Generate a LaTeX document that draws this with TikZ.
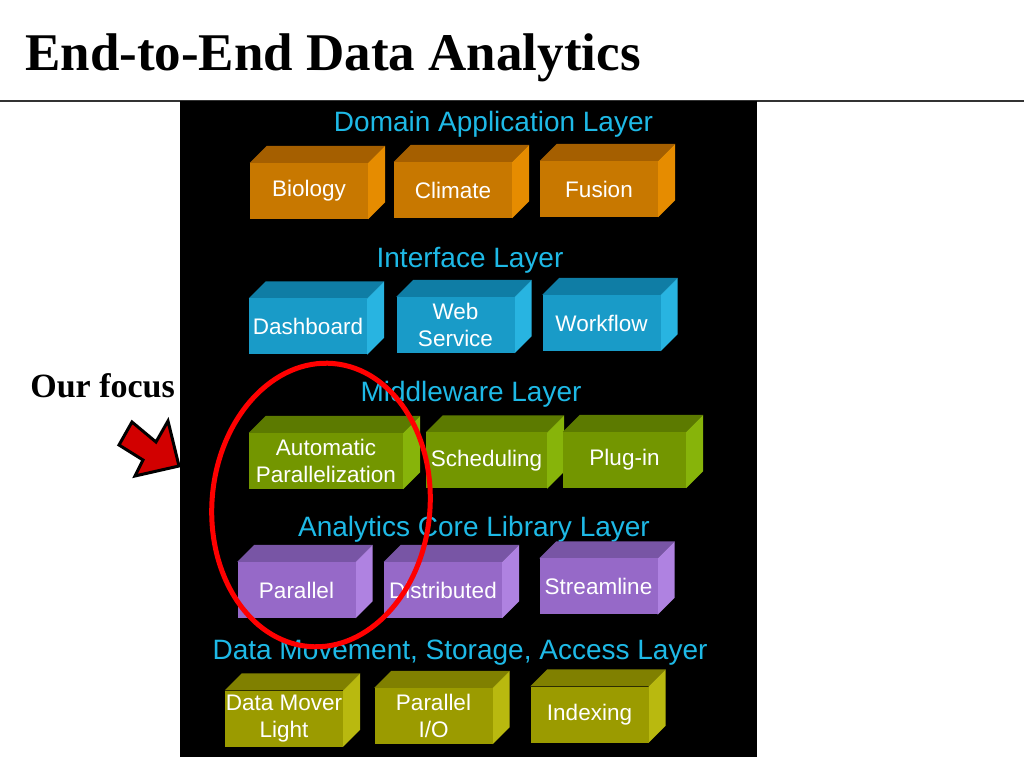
\documentclass[tikz,border=0pt]{standalone}
\usepackage{fontspec}
\setmainfont{Liberation Serif}
\setsansfont{Liberation Sans}
\usepackage{tikz}
\usetikzlibrary{arrows.meta,positioning}
\definecolor{layercyan}{RGB}{30,185,230}
\definecolor{focusred}{RGB}{210,0,0}
\definecolor{orgF}{RGB}{200,120,0}
\definecolor{orgT}{RGB}{165,95,0}
\definecolor{orgS}{RGB}{230,140,0}
\definecolor{bluF}{RGB}{25,155,200}
\definecolor{bluT}{RGB}{15,125,165}
\definecolor{bluS}{RGB}{40,180,225}
\definecolor{grnF}{RGB}{115,150,0}
\definecolor{grnT}{RGB}{92,122,0}
\definecolor{grnS}{RGB}{135,180,10}
\definecolor{purF}{RGB}{150,105,200}
\definecolor{purT}{RGB}{120,85,165}
\definecolor{purS}{RGB}{175,130,225}
\definecolor{olvF}{RGB}{155,155,0}
\definecolor{olvT}{RGB}{128,128,0}
\definecolor{olvS}{RGB}{185,185,15}
\tikzset{
  every picture/.style={line join=round, line cap=round, >=Stealth},
  layer/.style={text=layercyan, font=\sffamily\fontsize{28}{32}\selectfont, inner sep=0pt},
  cube/.style={rectangle, fill=#1F, text=white, inner sep=0pt, align=center,
    minimum width=118pt, minimum height=56pt, font=\sffamily\fontsize{22.5}{27}\selectfont,
    append after command={\pgfextra{
      \fill[#1T] (\tikzlastnode.north west) -- ++(17pt,17pt)
        -- ([shift={(17pt,17pt)}]\tikzlastnode.north east) -- (\tikzlastnode.north east) -- cycle;
      \fill[#1S] (\tikzlastnode.north east) -- ++(17pt,17pt)
        -- ([shift={(17pt,17pt)}]\tikzlastnode.south east) -- (\tikzlastnode.south east) -- cycle;}}},
}

\begin{document}
\begin{tikzpicture}[x=1pt,y=1pt]
\useasboundingbox (0,0) rectangle (1024,768);
\fill[white] (0,0) rectangle (1024,768);
\node[anchor=base west,inner sep=0pt,font=\bfseries\fontsize{53}{60}\selectfont] (title) at (25,697) {End-to-End Data Analytics};
\draw[line width=2pt,black!80] (0,667)--(1024,667);
\fill[black] (180,11) rectangle (757,667);
% layers
\node[layer] (domain) at (493.5,644) {Domain Application Layer};
\node[layer] (interface) at (470,508) {Interface Layer};
\node[layer] (middleware) at (471,374) {Middleware Layer};
\node[layer] (core) at (474,239) {Analytics Core Library Layer};
\node[layer] (storage) at (460,115) {Data Movement, Storage, Access Layer};
% boxes
\node[cube=org] (biology) at (309,577) {Biology};
\node[cube=org] (climate) at (453,578) {Climate};
\node[cube=org] (fusion) at (599,579) {Fusion};
\node[cube=blu] (dashboard) at (308,441.5) {Dashboard};
\node[cube=blu] (webservice) at (455.5,443) {Web\\Service};
\node[cube=blu] (workflow) at (601.5,445) {Workflow};
\node[cube=grn,minimum width=154pt] (autopar) at (326,307) {Automatic\\Parallelization};
\node[cube=grn,minimum width=121pt] (scheduling) at (486.5,307.5) {Scheduling};
\node[cube=grn,minimum width=123pt] (plugin) at (624.5,308) {Plug-in};
\node[cube=pur] (parallel) at (296.5,178) {Parallel};
\node[cube=pur] (distributed) at (443,178) {Distributed};
\node[cube=pur] (streamline) at (598.5,181.5) {Streamline};
\node[cube=olv] (datamover) at (284,49.5) {Data Mover\\Light};
\node[cube=olv] (parallelio) at (433.5,52) {Parallel\\I/O};
\node[cube=olv] (indexing) at (589.5,53.5) {Indexing};
% focus
\node[anchor=base east,inner sep=0pt,font=\bfseries\fontsize{34}{38}\selectfont] (focus) at (175,370) {Our focus};
\draw[line width=3pt,fill=focusred,line join=miter] (132,346)--(156,326)--(168,347)--(179,302)--(135,292)--(143,308)--(119,323)--cycle;
\draw[line width=5pt,red] (321,263) ellipse[x radius=109,y radius=142,rotate=-5];
\end{tikzpicture}
\end{document}
